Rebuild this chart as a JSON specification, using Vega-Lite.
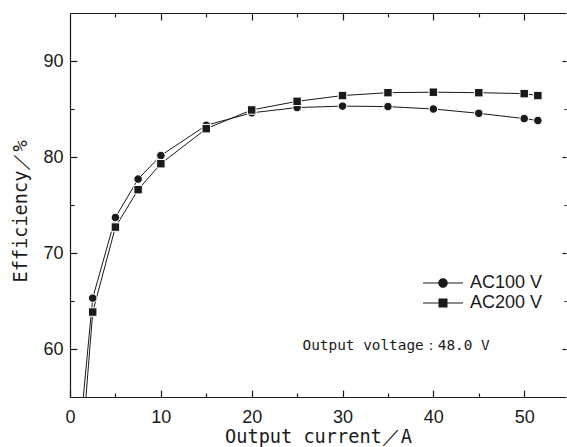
{
  "$schema": "https://vega.github.io/schema/vega-lite/v6.json",
  "width": 496,
  "height": 384,
  "autosize": {"type": "none"},
  "padding": {"left": 70, "top": 13, "right": 1, "bottom": 50},
  "background": "white",
  "config": {
    "view": {"stroke": null},
    "axis": {
      "grid": false,
      "domainColor": "#1a1a1a",
      "domainWidth": 1.2,
      "tickColor": "#1a1a1a",
      "tickWidth": 1.2,
      "labelFont": "Liberation Sans",
      "labelFontSize": 18,
      "labelColor": "#1a1a1a",
      "labelFlush": false,
      "labelOverlap": false,
      "titleFont": "DejaVu Sans Mono",
      "titleFontSize": 18.6,
      "titleFontWeight": "normal",
      "titleColor": "#1a1a1a"
    }
  },
  "data": {
    "values": [
      {"series": "AC100 V", "current": 1, "efficiency": 50.4},
      {"series": "AC100 V", "current": 2.5, "efficiency": 65.3},
      {"series": "AC100 V", "current": 5, "efficiency": 73.7},
      {"series": "AC100 V", "current": 7.5, "efficiency": 77.7},
      {"series": "AC100 V", "current": 10, "efficiency": 80.15},
      {"series": "AC100 V", "current": 15, "efficiency": 83.3},
      {"series": "AC100 V", "current": 20, "efficiency": 84.6},
      {"series": "AC100 V", "current": 25, "efficiency": 85.15},
      {"series": "AC100 V", "current": 30, "efficiency": 85.3},
      {"series": "AC100 V", "current": 35, "efficiency": 85.25},
      {"series": "AC100 V", "current": 40, "efficiency": 85.0},
      {"series": "AC100 V", "current": 45, "efficiency": 84.55},
      {"series": "AC100 V", "current": 50, "efficiency": 84.0},
      {"series": "AC100 V", "current": 51.5, "efficiency": 83.8},
      {"series": "AC200 V", "current": 1, "efficiency": 46.0},
      {"series": "AC200 V", "current": 2.5, "efficiency": 63.85},
      {"series": "AC200 V", "current": 5, "efficiency": 72.7},
      {"series": "AC200 V", "current": 7.5, "efficiency": 76.6},
      {"series": "AC200 V", "current": 10, "efficiency": 79.3},
      {"series": "AC200 V", "current": 15, "efficiency": 82.95},
      {"series": "AC200 V", "current": 20, "efficiency": 84.9},
      {"series": "AC200 V", "current": 25, "efficiency": 85.8},
      {"series": "AC200 V", "current": 30, "efficiency": 86.4},
      {"series": "AC200 V", "current": 35, "efficiency": 86.7},
      {"series": "AC200 V", "current": 40, "efficiency": 86.75},
      {"series": "AC200 V", "current": 45, "efficiency": 86.7},
      {"series": "AC200 V", "current": 50, "efficiency": 86.6},
      {"series": "AC200 V", "current": 51.5, "efficiency": 86.4}
    ]
  },
  "resolve": {
    "scale": {"shape": "independent"},
    "axis": {"x": "independent", "y": "independent"}
  },
  "layer": [
    {
      "mark": {"type": "line", "clip": true, "color": "#1a1a1a", "strokeWidth": 1},
      "encoding": {
        "x": {
          "field": "current", "type": "quantitative",
          "scale": {"domain": [0, 54.6], "nice": false, "zero": false},
          "axis": {"orient": "bottom", "values": [0, 10, 20, 30, 40, 50], "tickSize": -7, "labelPadding": 18, "title": "Output current／A", "titlePadding": 1.5}
        },
        "y": {
          "field": "efficiency", "type": "quantitative",
          "scale": {"domain": [55, 95], "nice": false, "zero": false},
          "axis": {"orient": "left", "values": [60, 70, 80, 90], "tickSize": -7, "labelPadding": 14, "title": "Efficiency／%", "titlePadding": 12, "titleY": 198}
        },
        "detail": {"field": "series", "type": "nominal"}
      }
    },
    {
      "mark": {"type": "point", "filled": true, "clip": true, "fill": "#1a1a1a", "stroke": "white", "strokeWidth": 1, "opacity": 1, "size": 72},
      "encoding": {
        "x": {
          "field": "current", "type": "quantitative",
          "axis": {"orient": "bottom", "values": [5, 15, 25, 35, 45], "tickSize": -4, "labels": false, "domain": false, "title": null}
        },
        "y": {
          "field": "efficiency", "type": "quantitative",
          "axis": {"orient": "left", "values": [65, 75, 85], "tickSize": -4, "labels": false, "domain": false, "title": null}
        },
        "shape": {
          "field": "series", "type": "nominal",
          "scale": {"domain": ["AC100 V", "AC200 V"], "range": ["circle", "square"]},
          "legend": null
        }
      }
    },
    {
      "transform": [{"filter": "false"}],
      "mark": {"type": "point", "filled": true, "fill": "#1a1a1a", "opacity": 1},
      "encoding": {
        "x": {
          "field": "current", "type": "quantitative",
          "axis": {"orient": "top", "values": [10, 20, 30, 40, 50], "tickSize": -7, "labels": false, "domain": true, "title": null}
        },
        "y": {
          "field": "efficiency", "type": "quantitative",
          "axis": {"orient": "right", "values": [60, 70, 80, 90], "tickSize": -4, "labels": false, "domain": false, "title": null}
        },
        "shape": {
          "field": "series", "type": "nominal",
          "scale": {
            "domain": ["AC100 V", "AC200 V"],
            "range": [
              "M-4,-0.11H4V0.11H-4ZM0.95,0A0.95,0.95,0,1,1,-0.95,0A0.95,0.95,0,1,1,0.95,0Z",
              "M-4,-0.11H4V0.11H-4ZM-0.9,-0.9H0.9V0.9H-0.9Z"
            ]
          },
          "legend": {
            "orient": "none",
            "legendX": 364,
            "legendY": 261,
            "title": null,
            "padding": 0,
            "symbolSize": 100,
            "symbolStrokeWidth": 0,
            "symbolFillColor": "#1a1a1a",
            "labelFont": "Liberation Sans",
            "labelFontSize": 18,
            "labelColor": "#1a1a1a",
            "labelOffset": 18,
            "rowPadding": 2
          }
        }
      }
    },
    {
      "transform": [{"filter": "false"}],
      "mark": {"type": "point", "opacity": 0},
      "encoding": {
        "x": {
          "field": "current", "type": "quantitative",
          "axis": {"orient": "top", "values": [5, 15, 25, 35, 45], "tickSize": -4, "labels": false, "domain": false, "title": null}
        },
        "y": {
          "field": "efficiency", "type": "quantitative",
          "axis": {"orient": "right", "values": [65, 75, 85], "tickSize": -2, "labels": false, "domain": false, "title": null}
        }
      }
    },
    {
      "data": {"values": [{"current": 35.9, "efficiency": 60.3, "label": "Output voltage：48.0 V"}]},
      "mark": {"type": "text", "font": "DejaVu Sans Mono", "fontSize": 14.4, "color": "#1a1a1a", "align": "center", "baseline": "middle"},
      "encoding": {
        "x": {"field": "current", "type": "quantitative", "axis": null},
        "y": {"field": "efficiency", "type": "quantitative", "axis": null},
        "text": {"field": "label"}
      }
    }
  ]
}
